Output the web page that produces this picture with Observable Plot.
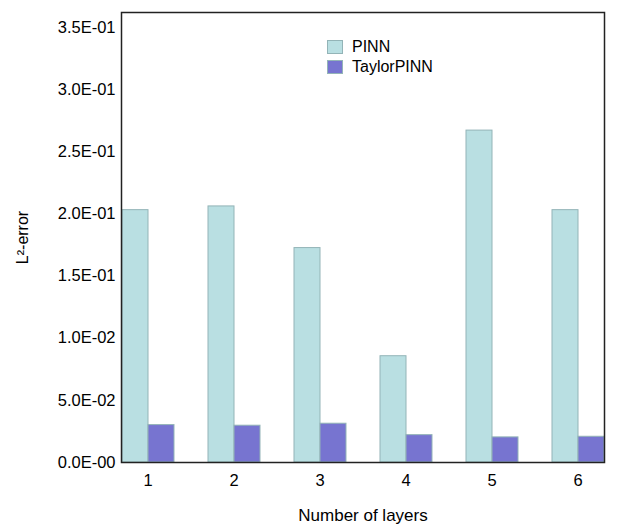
<!DOCTYPE html>
<html>
<head>
<meta charset="utf-8">
<script src="https://cdn.jsdelivr.net/npm/d3@7"></script>
<script src="https://cdn.jsdelivr.net/npm/@observablehq/plot@0.6"></script>
<style>
  html, body { margin: 0; padding: 0; background: #fff; }
  #wrap { position: relative; width: 619px; height: 525px; font-family: "Liberation Sans", Arial, sans-serif; }
  #legend { position: absolute; left: 327px; top: 37px; font-size: 16px; color: #000; }
  #legend .row { display: flex; align-items: center; height: 20px; }
  #legend .sw { width: 16px; height: 14px; box-sizing: border-box; border: 1.5px solid #93b4b7; margin-right: 9px; }
</style>
</head>
<body>
<div id="wrap"><div id="legend"></div></div>
<script>
const layers = [1, 2, 3, 4, 5, 6];
const seriesNames = ["PINN", "TaylorPINN"];
const pinn = [0.203, 0.206, 0.1725, 0.0855, 0.267, 0.203];
const taylor = [0.0301, 0.0296, 0.0312, 0.0220, 0.0202, 0.0207];
const yTicks = [0, 0.05, 0.10, 0.15, 0.20, 0.25, 0.30, 0.35];
const yTickLabels = ["0.0E-00", "5.0E-02", "1.0E-02", "1.5E-01", "2.0E-01", "2.5E-01", "3.0E-01", "3.5E-01"];
const fills = ["#b9dfe2", "#7774d0"];
const barStroke = "#93b4b7";

const rows = [];
layers.forEach((l, i) => {
  rows.push({layer: l, series: seriesNames[0], value: pinn[i]});
  rows.push({layer: l, series: seriesNames[1], value: taylor[i]});
});

const chart = Plot.plot({
  width: 619,
  height: 525,
  marginLeft: 112,
  marginTop: 12,
  marginRight: 6,
  marginBottom: 63,
  style: {fontFamily: '"Liberation Sans", Arial, sans-serif', fontSize: "16px", color: "#000", background: "#fff"},
  fx: {domain: layers, paddingInner: 0.378, paddingOuter: 0.075},
  x: {domain: seriesNames, axis: null, padding: 0},
  y: {domain: [0, 0.362]},
  color: {domain: seriesNames, range: fills},
  marks: [
    Plot.barY(rows, {fx: "layer", x: "series", y: "value", fill: "series", stroke: barStroke, strokeWidth: 1}),
    Plot.axisY(yTicks, {
      anchor: "left",
      tickFormat: d => yTickLabels[yTicks.indexOf(d)],
      tickSize: 0,
      tickPadding: 6,
      fontSize: 16.5,
      label: null
    }),
    Plot.axisY({
      anchor: "left",
      ticks: [],
      tickSize: 0,
      fontSize: 16,
      label: "L²-error",
      labelAnchor: "center",
      labelArrow: "none",
      labelOffset: 105
    }),
    Plot.axisFx({
      anchor: "bottom",
      tickSize: 0,
      tickPadding: 12,
      fontSize: 16.5,
      label: null
    }),
    Plot.axisFx({
      anchor: "bottom",
      ticks: [],
      tickSize: 0,
      fontSize: 17,
      label: "Number of layers",
      labelAnchor: "center",
      labelOffset: 58
    }),
    Plot.frame({facet: "super", stroke: "#222", strokeWidth: 1.5})
  ]
});
document.getElementById("wrap").prepend(chart);

const legend = d3.select("#legend");
seriesNames.forEach((s, i) => {
  const row = legend.append("div").attr("class", "row");
  row.append("div").attr("class", "sw").style("background", fills[i]);
  row.append("span").text(s);
});
</script>
</body>
</html>
